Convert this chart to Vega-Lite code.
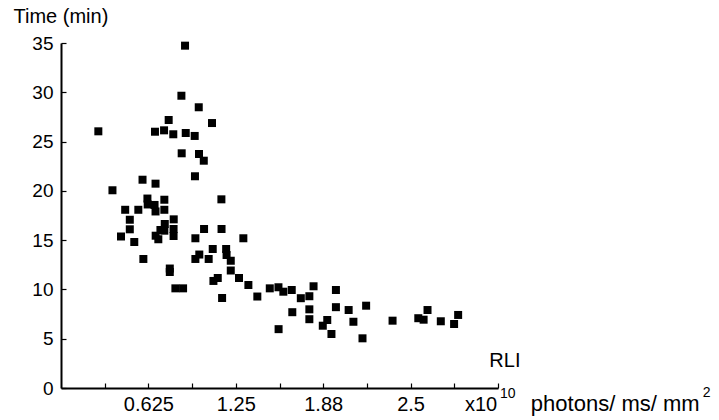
{
  "$schema": "https://vega.github.io/schema/vega-lite/v6.json",
  "autosize": {"type": "none"},
  "width": 437,
  "height": 345,
  "padding": {"left": 61, "top": 43, "right": 221, "bottom": 32},
  "background": "white",
  "config": {
    "view": {"stroke": null},
    "font": "Liberation Sans",
    "axis": {
      "grid": false,
      "domainColor": "black",
      "domainWidth": 2,
      "tickColor": "black",
      "tickWidth": 1.2,
      "labelColor": "black",
      "titleColor": "black",
      "labelFont": "Liberation Sans",
      "titleFont": "Liberation Sans"
    }
  },
  "datasets": {
    "points": [
      {"rli": 0.887, "time": 34.73},
      {"rli": 0.861, "time": 29.65},
      {"rli": 0.985, "time": 28.48},
      {"rli": 0.770, "time": 27.19},
      {"rli": 1.080, "time": 26.88},
      {"rli": 0.267, "time": 26.04},
      {"rli": 0.672, "time": 26.0},
      {"rli": 0.737, "time": 26.14},
      {"rli": 0.803, "time": 25.74},
      {"rli": 0.892, "time": 25.87},
      {"rli": 0.956, "time": 25.57},
      {"rli": 0.863, "time": 23.81},
      {"rli": 0.987, "time": 23.74},
      {"rli": 1.021, "time": 23.06},
      {"rli": 0.958, "time": 21.48},
      {"rli": 1.147, "time": 19.14},
      {"rli": 0.583, "time": 21.13},
      {"rli": 0.676, "time": 20.73},
      {"rli": 0.368, "time": 20.06},
      {"rli": 0.618, "time": 19.22},
      {"rli": 0.620, "time": 18.62},
      {"rli": 0.669, "time": 18.57},
      {"rli": 0.676, "time": 17.91},
      {"rli": 0.739, "time": 19.10},
      {"rli": 0.739, "time": 18.08},
      {"rli": 0.459, "time": 18.08},
      {"rli": 0.553, "time": 18.08},
      {"rli": 0.492, "time": 17.07},
      {"rli": 0.492, "time": 16.1},
      {"rli": 0.429, "time": 15.37},
      {"rli": 0.524, "time": 14.81},
      {"rli": 0.806, "time": 17.11},
      {"rli": 0.742, "time": 16.64},
      {"rli": 0.711, "time": 16.03},
      {"rli": 0.739, "time": 15.96},
      {"rli": 0.805, "time": 16.13},
      {"rli": 0.677, "time": 15.45},
      {"rli": 0.696, "time": 15.09},
      {"rli": 0.805, "time": 15.42},
      {"rli": 0.589, "time": 13.09},
      {"rli": 0.778, "time": 12.12},
      {"rli": 0.778, "time": 11.77},
      {"rli": 0.818, "time": 10.11},
      {"rli": 0.873, "time": 10.11},
      {"rli": 0.961, "time": 15.19},
      {"rli": 1.023, "time": 16.13},
      {"rli": 0.989, "time": 13.54},
      {"rli": 0.961, "time": 13.09},
      {"rli": 1.056, "time": 13.09},
      {"rli": 1.085, "time": 14.1},
      {"rli": 1.148, "time": 16.13},
      {"rli": 1.090, "time": 10.86},
      {"rli": 1.121, "time": 11.16},
      {"rli": 1.152, "time": 9.13},
      {"rli": 1.181, "time": 14.1},
      {"rli": 1.184, "time": 13.49},
      {"rli": 1.214, "time": 12.91},
      {"rli": 1.214, "time": 11.92},
      {"rli": 1.273, "time": 11.16},
      {"rli": 1.304, "time": 15.19},
      {"rli": 1.340, "time": 10.45},
      {"rli": 1.404, "time": 9.28},
      {"rli": 1.493, "time": 10.11},
      {"rli": 1.555, "time": 10.22},
      {"rli": 1.590, "time": 9.77},
      {"rli": 1.650, "time": 9.94},
      {"rli": 1.715, "time": 9.11},
      {"rli": 1.776, "time": 9.31},
      {"rli": 1.806, "time": 10.32},
      {"rli": 1.654, "time": 7.69},
      {"rli": 1.556, "time": 5.97},
      {"rli": 1.776, "time": 7.98},
      {"rli": 1.776, "time": 6.98},
      {"rli": 1.966, "time": 9.94},
      {"rli": 1.966, "time": 8.2},
      {"rli": 1.872, "time": 6.32},
      {"rli": 1.904, "time": 6.9},
      {"rli": 1.934, "time": 5.48},
      {"rli": 2.057, "time": 7.91},
      {"rli": 2.091, "time": 6.72},
      {"rli": 2.182, "time": 8.35},
      {"rli": 2.156, "time": 5.04},
      {"rli": 2.371, "time": 6.83},
      {"rli": 2.555, "time": 7.08},
      {"rli": 2.593, "time": 6.93},
      {"rli": 2.621, "time": 7.91},
      {"rli": 2.716, "time": 6.77},
      {"rli": 2.811, "time": 6.49},
      {"rli": 2.840, "time": 7.41}
    ],
    "one": [{"n": 1}]
  },
  "layer": [
    {
      "data": {"name": "points"},
      "mark": {"type": "point", "shape": "square", "filled": true, "color": "black", "opacity": 1, "size": 64, "strokeWidth": 0},
      "encoding": {
        "x": {
          "field": "rli", "type": "quantitative",
          "scale": {"domain": [0, 3.125], "nice": false, "zero": false},
          "axis": {
            "title": null,
            "values": [0.3125, 0.625, 0.9375, 1.25, 1.5625, 1.875, 2.1875, 2.5, 2.8125, 3.125],
            "labelExpr": "datum.value == 0.625 ? '0.625' : datum.value == 1.25 ? '1.25' : datum.value == 1.875 ? '1.88' : datum.value == 2.5 ? '2.5' : ''",
            "tickSize": -5,
            "labelPadding": 11,
            "labelFontSize": 20,
            "labelBaseline": "top",
            "labelFlush": false,
            "labelOverlap": false
          }
        },
        "y": {
          "field": "time", "type": "quantitative",
          "scale": {"domain": [0, 35], "nice": false, "zero": true},
          "axis": {
            "title": "Time (min)",
            "titleAngle": 0,
            "titleAlign": "left",
            "titleBaseline": "alphabetic",
            "titleX": -48,
            "titleY": -21,
            "titleFontSize": 20,
            "titleFontWeight": "normal",
            "values": [0, 2.5, 5, 7.5, 10, 12.5, 15, 17.5, 20, 22.5, 25, 27.5, 30, 32.5, 35],
            "labelExpr": "datum.value % 5 == 0 ? datum.label : ''",
            "tickSize": -5,
            "labelPadding": 13,
            "labelFontSize": 19,
            "labelFlush": false,
            "labelOverlap": false
          }
        }
      }
    },
    {
      "data": {"name": "one"},
      "mark": {"type": "text", "text": "RLI", "align": "left", "baseline": "alphabetic", "fontSize": 20, "fontWeight": "normal", "color": "black", "font": "Liberation Sans"},
      "encoding": {"x": {"datum": 3.063, "type": "quantitative"}, "y": {"datum": 2.18, "type": "quantitative"}}
    },
    {
      "data": {"name": "one"},
      "mark": {"type": "text", "text": "x10", "align": "left", "baseline": "alphabetic", "fontSize": 20, "fontWeight": "normal", "color": "black", "font": "Liberation Sans"},
      "encoding": {"x": {"datum": 2.889, "type": "quantitative"}, "y": {"datum": -2.35, "type": "quantitative"}}
    },
    {
      "data": {"name": "one"},
      "mark": {"type": "text", "text": "10", "align": "left", "baseline": "alphabetic", "fontSize": 14, "fontWeight": "normal", "color": "black", "font": "Liberation Sans"},
      "encoding": {"x": {"datum": 3.139, "type": "quantitative"}, "y": {"datum": -1.05, "type": "quantitative"}}
    },
    {
      "data": {"name": "one"},
      "mark": {"type": "text", "text": "photons/ ms/ mm", "align": "left", "baseline": "alphabetic", "fontSize": 22, "fontWeight": "normal", "color": "black", "font": "Liberation Sans"},
      "encoding": {"x": {"datum": 3.36, "type": "quantitative"}, "y": {"datum": -2.3, "type": "quantitative"}}
    },
    {
      "data": {"name": "one"},
      "mark": {"type": "text", "text": "2", "align": "left", "baseline": "alphabetic", "fontSize": 14, "fontWeight": "normal", "color": "black", "font": "Liberation Sans"},
      "encoding": {"x": {"datum": 4.59, "type": "quantitative"}, "y": {"datum": -0.9, "type": "quantitative"}}
    }
  ]
}
